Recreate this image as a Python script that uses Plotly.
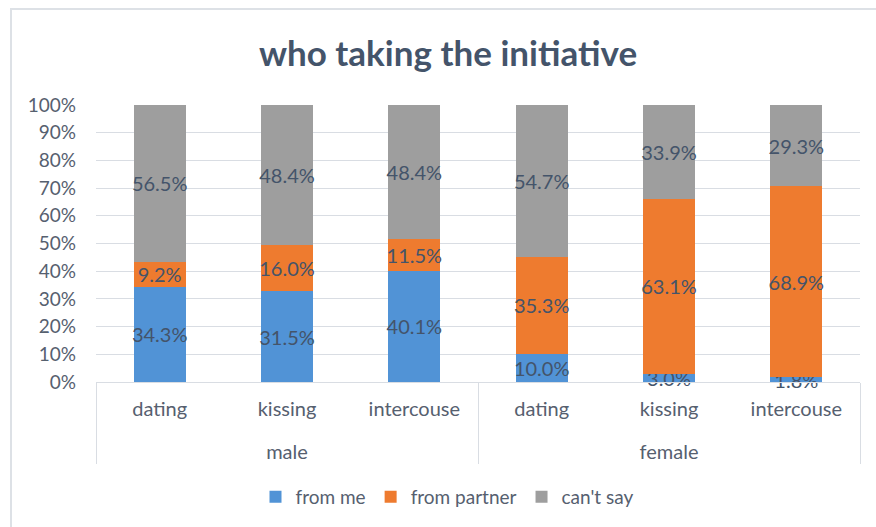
import plotly.graph_objects as go

genders = ["male", "male", "male", "female", "female", "female"]
acts = ["dating", "kissing", "intercouse", "dating", "kissing", "intercouse"]
from_me = [34.3, 31.5, 40.1, 10.0, 3.0, 1.8]
from_partner = [9.2, 16.0, 11.5, 35.3, 63.1, 68.9]
cant_say = [56.5, 48.4, 48.4, 54.7, 33.9, 29.3]
series_names = ["from me", "from partner", "can't say"]
series_values = [from_me, from_partner, cant_say]
series_colors = ["#5193D6", "#EE7B2F", "#9E9E9E"]
yticks = [0, 10, 20, 30, 40, 50, 60, 70, 80, 90, 100]

FONT = "Lato"
LABEL = "#44546A"
TICK = "#56606F"
GRID = "#D9DDE3"

# display labels for the inner category row (blank second line adds spacing)
act_labels = [a + "<br> " for a in acts]

fig = go.Figure()
for name, vals, col in zip(series_names, series_values, series_colors):
    fig.add_trace(go.Bar(
        name=name,
        x=[genders, act_labels],
        y=vals,
        marker=dict(color=col, line=dict(width=0)),
        text=[f"{v:.1f}%" for v in vals],
        textposition="inside",
        insidetextanchor="middle",
        constraintext="none",
        textangle=0,
        textfont=dict(family=FONT, size=20, color=LABEL),
        cliponaxis=False,
    ))

fig.update_layout(
    width=876, height=527,
    barmode="stack",
    barnorm="fraction",
    bargap=0.59,
    plot_bgcolor="white",
    paper_bgcolor="white",
    margin=dict(l=96, r=16, t=105, b=145),
    title=dict(text="<b>who taking the initiative</b>", x=448 / 876, xanchor="center",
               y=1 - 54 / 527, yanchor="middle",
               font=dict(family=FONT, size=35, color=LABEL)),
    legend=dict(orientation="h", x=447 / 876, xanchor="center", xref="container",
                y=1 - 497 / 527, yref="container", yanchor="middle",
                font=dict(family=FONT, size=19, color=TICK),
                itemwidth=30, traceorder="normal"),
    showlegend=True,
)
fig.update_yaxes(
    range=[0, 1], tickvals=[t / 100 for t in yticks], ticktext=[f"{t}%" for t in yticks],
    showgrid=True, gridcolor=GRID, gridwidth=1, zeroline=False,
    tickfont=dict(family=FONT, size=19, color=TICK), ticklabelstandoff=19,
    showline=False, fixedrange=True,
)
fig.update_xaxes(
    type="multicategory",
    showline=True, linecolor=GRID, linewidth=1,
    showdividers=True, dividercolor=GRID, dividerwidth=1,
    ticklabelstandoff=9,
    tickfont=dict(family=FONT, size=20, color=TICK),
    showgrid=False,
)
# outer chart border (left and top edges visible)
fig.add_shape(type="rect", xref="paper", yref="paper",
              x0=(11 - 96) / 764, x1=(900 - 96) / 764,
              y0=(382 - 560) / 277, y1=(382 - 9) / 277,
              line=dict(color="#DDE1E6", width=2), layer="below")

fig.write_html("out.html")
